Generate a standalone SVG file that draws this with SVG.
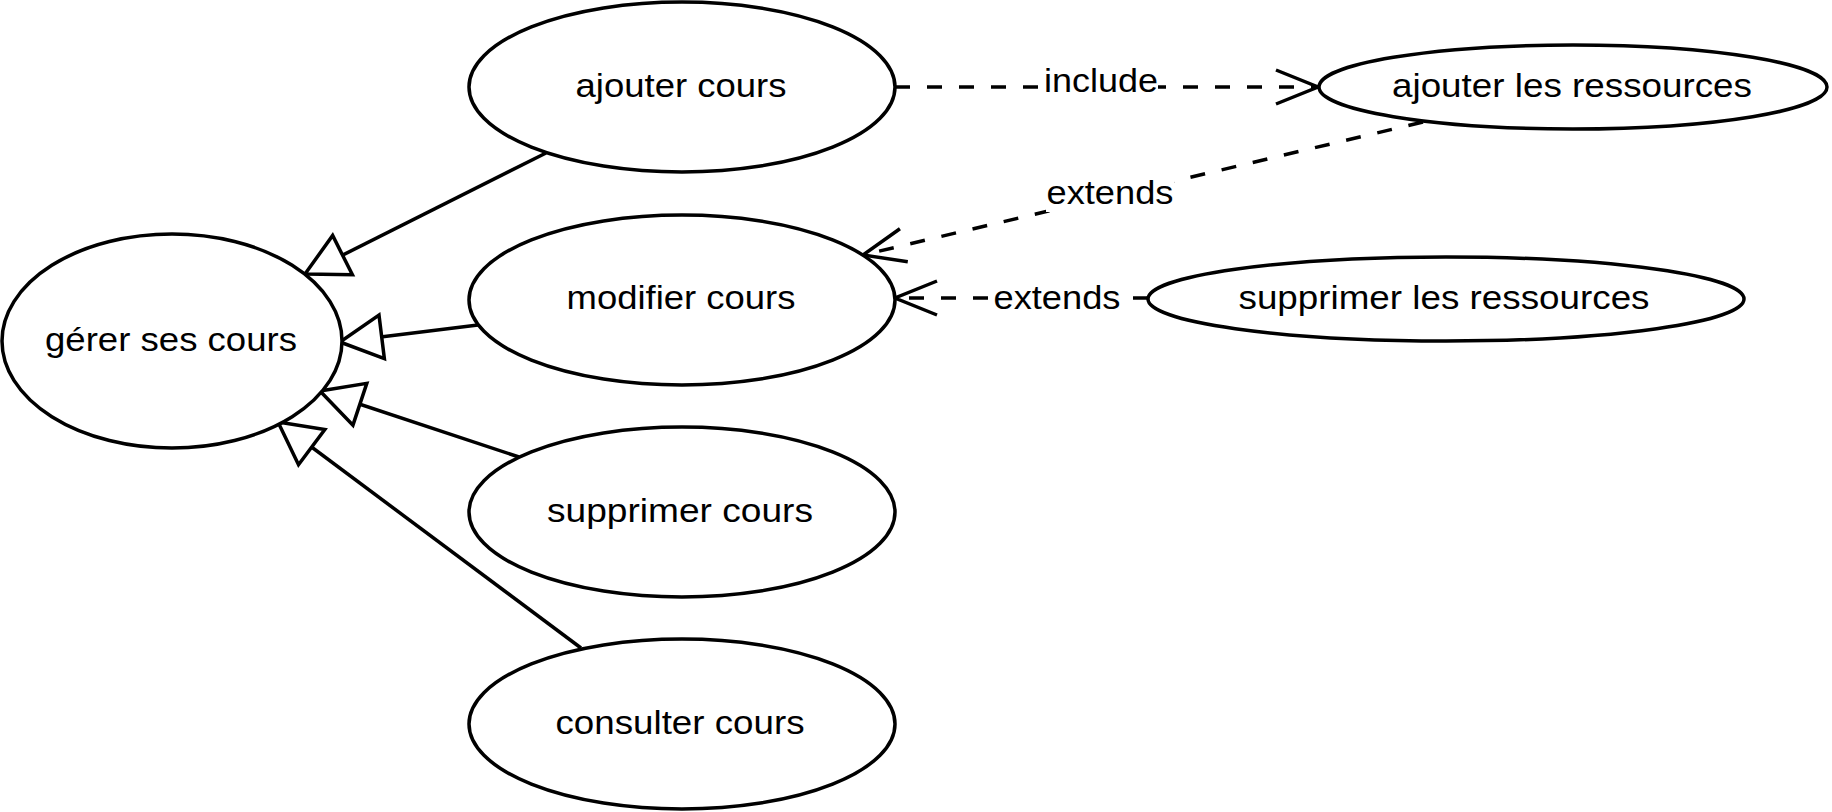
<svg xmlns="http://www.w3.org/2000/svg" width="1832" height="812" viewBox="0 0 1832 812">
<style>
.uc{fill:#fff;stroke:#000;stroke-width:3.5}
.t{font-family:"Liberation Sans",Arial,sans-serif;font-size:34px;fill:#000;text-anchor:middle}
.gen{fill:none;stroke:#000;stroke-width:3.5;marker-end:url(#tri)}
.dep{fill:none;stroke:#000;stroke-width:3.5;stroke-dasharray:15 17;marker-end:url(#open)}
.lb{fill:#fff;stroke:none}
</style>
<defs>
<marker id="tri" markerUnits="userSpaceOnUse" orient="auto" refX="0" refY="0" markerWidth="50" markerHeight="50" overflow="visible">
<path d="M0,0 L-42,-22 L-42,22 Z" fill="#fff" stroke="#000" stroke-width="3.5" stroke-linejoin="miter"/>
</marker>
<marker id="open" markerUnits="userSpaceOnUse" orient="auto" refX="0" refY="0" markerWidth="50" markerHeight="50" overflow="visible">
<path d="M-42,-17 L0,0 L-42,17" fill="none" stroke="#000" stroke-width="3.5"/>
</marker>
</defs>
<rect width="1832" height="812" fill="#fff"/>
<g id="connectors">
<path class="gen" d="M546,153 L305,274"/>
<path class="gen" d="M478,325 L340,342"/>
<path class="gen" d="M519,457 L320,391"/>
<path class="gen" d="M581,648 L278,422"/>
<path class="dep" d="M895,87 L1318,87"/>
<path class="dep" d="M1423,122 L863,255"/>
<path class="dep" d="M1148,298 L895,298"/>
<rect class="lb" x="1044" y="63" width="114" height="37"/>
<text class="t" x="1101" y="92" textLength="114" lengthAdjust="spacingAndGlyphs">include</text>
<rect class="lb" x="1046" y="175" width="128" height="37"/>
<text class="t" x="1110" y="204" textLength="127" lengthAdjust="spacingAndGlyphs">extends</text>
<rect class="lb" x="993" y="280" width="128" height="37"/>
<text class="t" x="1057" y="309" textLength="127" lengthAdjust="spacingAndGlyphs">extends</text>
</g>
<g id="gerer">
<ellipse class="uc" cx="172" cy="341" rx="170" ry="107"/>
<text class="t" x="171" y="351" textLength="252" lengthAdjust="spacingAndGlyphs">gérer ses cours</text>
</g>
<g id="ajouter-cours">
<ellipse class="uc" cx="682" cy="87" rx="213" ry="85"/>
<text class="t" x="681" y="97" textLength="211" lengthAdjust="spacingAndGlyphs">ajouter cours</text>
</g>
<g id="modifier-cours">
<ellipse class="uc" cx="682" cy="300" rx="213" ry="85"/>
<text class="t" x="681" y="309" textLength="229" lengthAdjust="spacingAndGlyphs">modifier cours</text>
</g>
<g id="supprimer-cours">
<ellipse class="uc" cx="682" cy="512" rx="213" ry="85"/>
<text class="t" x="680" y="522" textLength="266" lengthAdjust="spacingAndGlyphs">supprimer cours</text>
</g>
<g id="consulter-cours">
<ellipse class="uc" cx="682" cy="724" rx="213" ry="85"/>
<text class="t" x="680" y="734" textLength="249" lengthAdjust="spacingAndGlyphs">consulter cours</text>
</g>
<g id="ajouter-ressources">
<ellipse class="uc" cx="1573" cy="87" rx="254" ry="42"/>
<text class="t" x="1572" y="97" textLength="360" lengthAdjust="spacingAndGlyphs">ajouter les ressources</text>
</g>
<g id="supprimer-ressources">
<ellipse class="uc" cx="1446" cy="299" rx="298" ry="42"/>
<text class="t" x="1444" y="309" textLength="411" lengthAdjust="spacingAndGlyphs">supprimer les ressources</text>
</g>
</svg>
